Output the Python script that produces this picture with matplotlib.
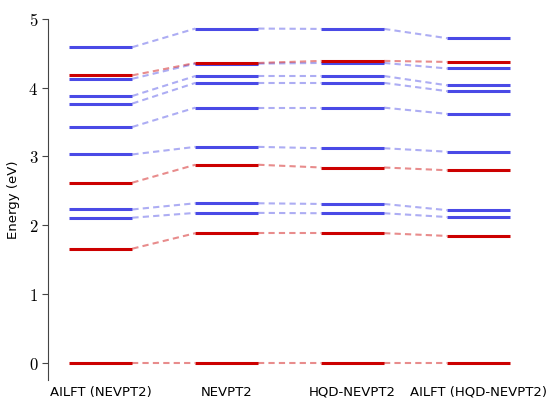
import matplotlib
matplotlib.use("Agg")
import matplotlib.pyplot as plt

plt.rcParams["mathtext.fontset"] = "cm"

methods = ["AILFT (NEVPT2)", "NEVPT2", "HQD-NEVPT2", "AILFT (HQD-NEVPT2)"]

# energy levels (eV) per method, same ordering within each spin
red_levels = [
    [0.0, 1.66, 2.62, 4.18],
    [0.0, 1.885, 2.88, 4.36],
    [0.0, 1.885, 2.84, 4.39],
    [0.0, 1.845, 2.80, 4.375],
]
blue_levels = [
    [2.11, 2.23, 3.03, 3.43, 3.77, 3.88, 4.13, 4.59],
    [2.18, 2.32, 3.14, 3.71, 4.07, 4.17, 4.35, 4.86],
    [2.175, 2.31, 3.12, 3.71, 4.07, 4.17, 4.36, 4.855],
    [2.12, 2.22, 3.07, 3.62, 3.95, 4.035, 4.28, 4.72],
]

RED = "#cc0000"
BLUE = "#4a4ae6"
hw = 0.25

fig = plt.figure(figsize=(5.47, 4.03), dpi=100)
ax = fig.add_axes([0.0878, 0.057, 0.8837, 0.896])

for levels, col in [(blue_levels, BLUE), (red_levels, RED)]:
    for i, lv in enumerate(levels):
        for e in lv:
            ax.plot([i - hw, i + hw], [e, e], color=col, lw=2.2, solid_capstyle="butt", zorder=3)
        if i > 0:
            for e0, e1 in zip(levels[i - 1], lv):
                ax.plot([i - 1 + hw, i - hw], [e0, e1], color=col, lw=1.5,
                        ls=(0, (3, 2)), alpha=0.45, zorder=2)

ax.set_xlim(-0.42, 3.42)
ax.set_ylim(-0.25, 5)
ax.set_xticks(range(len(methods)))
ax.set_xticklabels(methods, fontsize=9.5)
ax.tick_params(axis="x", length=0, pad=4)
ax.set_yticks([0, 1, 2, 3, 4, 5])
ax.set_yticklabels([f"${v}$" for v in range(6)], fontsize=12)
ax.tick_params(axis="y", length=4, color="#444444", pad=3)
ax.set_ylabel("Energy (eV)", fontsize=9.5, labelpad=6)
for s in ["top", "right", "bottom"]:
    ax.spines[s].set_visible(False)
ax.spines["left"].set_color("#444444")

fig.savefig("out.png", dpi=100)
